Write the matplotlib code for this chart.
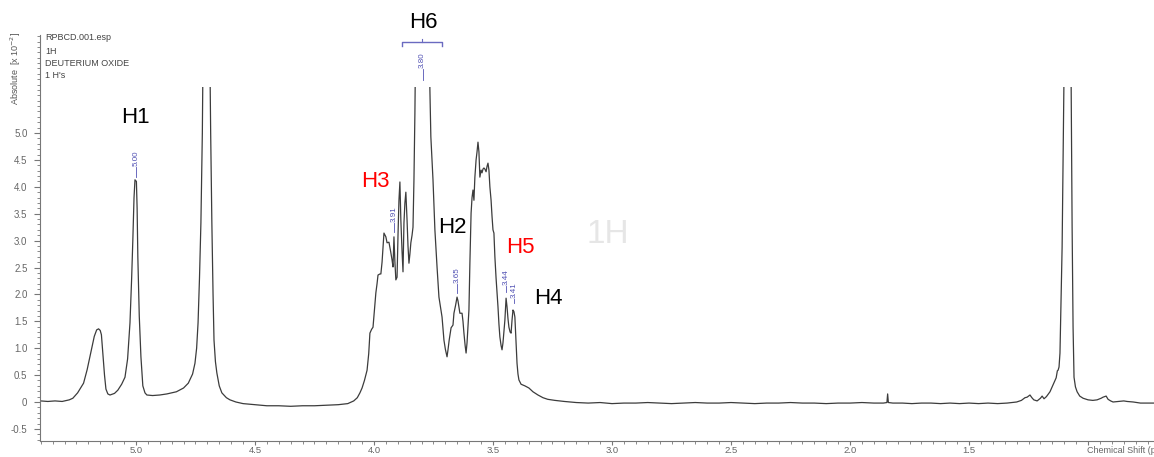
import matplotlib
matplotlib.use('Agg')
import matplotlib.pyplot as plt
from matplotlib.patches import Rectangle
from matplotlib.ticker import FixedLocator, MultipleLocator

# ---------------- data ----------------
ppm = [5.40, 5.37, 5.34, 5.31, 5.28, 5.265, 5.245, 5.22, 5.205, 5.19, 5.175, 5.165, 5.157, 5.150, 5.145,
       5.139, 5.132, 5.126, 5.118, 5.109, 5.090, 5.076, 5.060, 5.046, 5.035, 5.025, 5.018, 5.013, 5.008,
       5.004, 4.998, 4.995, 4.992, 4.986, 4.979, 4.971, 4.962, 4.954, 4.93, 4.90, 4.87, 4.83, 4.80, 4.78,
       4.762, 4.752, 4.745, 4.739, 4.733, 4.727, 4.721, 4.715, 4.704, 4.693, 4.686, 4.681, 4.676, 4.672,
       4.666, 4.660, 4.650, 4.639, 4.620, 4.605, 4.58, 4.55, 4.50, 4.45, 4.40, 4.35, 4.30, 4.25, 4.20,
       4.15, 4.11, 4.085, 4.07, 4.059, 4.050, 4.040, 4.029, 4.022, 4.017, 4.010, 4.004, 3.998, 3.992,
       3.987, 3.983, 3.975, 3.971, 3.966, 3.962, 3.958, 3.950, 3.945, 3.937, 3.930, 3.924, 3.920, 3.916,
       3.912, 3.908, 3.903, 3.899, 3.895, 3.891, 3.887, 3.882, 3.878, 3.874, 3.870, 3.866, 3.861, 3.857,
       3.853, 3.849, 3.845, 3.840, 3.836, 3.832, 3.828, 3.822, 3.81, 3.796, 3.782, 3.770, 3.765, 3.761,
       3.756, 3.752, 3.748, 3.744, 3.735, 3.727, 3.720, 3.714, 3.706, 3.700, 3.693, 3.689, 3.684, 3.676,
       3.668, 3.664, 3.657, 3.651, 3.647, 3.643, 3.639, 3.630, 3.626, 3.622, 3.617, 3.613, 3.609, 3.605,
       3.601, 3.597, 3.592, 3.588, 3.584, 3.580, 3.576, 3.571, 3.567, 3.563, 3.559, 3.555, 3.550, 3.546,
       3.542, 3.538, 3.534, 3.529, 3.525, 3.521, 3.517, 3.513, 3.508, 3.504, 3.500, 3.496, 3.492, 3.487,
       3.483, 3.479, 3.475, 3.471, 3.466, 3.462, 3.458, 3.454, 3.450, 3.445, 3.441, 3.437, 3.433, 3.428,
       3.424, 3.420, 3.416, 3.412, 3.408, 3.403, 3.399, 3.395, 3.391, 3.382, 3.366, 3.349, 3.332, 3.311,
       3.29, 3.27, 3.24, 3.20, 3.15, 3.10, 3.05, 3.00, 2.95, 2.90, 2.85, 2.80, 2.75, 2.70, 2.65, 2.60,
       2.55, 2.50, 2.45, 2.40, 2.35, 2.30, 2.25, 2.20, 2.15, 2.10, 2.05, 2.00, 1.95, 1.90, 1.86, 1.845,
       1.842, 1.839, 1.82, 1.78, 1.74, 1.70, 1.66, 1.62, 1.58, 1.54, 1.50, 1.46, 1.42, 1.38, 1.34, 1.30,
       1.28, 1.265, 1.256, 1.244, 1.236, 1.228, 1.214, 1.200, 1.193, 1.185, 1.175, 1.160, 1.147, 1.134,
       1.129, 1.126, 1.122, 1.118, 1.113, 1.109, 1.105, 1.100, 1.086, 1.072, 1.067, 1.063, 1.059, 1.053,
       1.046, 1.035, 1.021, 1.000, 0.980, 0.962, 0.945, 0.937, 0.924, 0.916, 0.905, 0.895, 0.87, 0.85,
       0.836, 0.81, 0.78, 0.75, 0.723]
intensity = [0.02, 0.01, 0.02, 0.01, 0.04, 0.07, 0.17, 0.35, 0.60, 0.91, 1.22, 1.34, 1.36, 1.33, 1.25,
             0.90, 0.50, 0.24, 0.15, 0.13, 0.16, 0.22, 0.33, 0.46, 0.80, 1.47, 2.30, 3.01, 3.80,
             4.13, 4.10, 3.60, 2.70, 1.60, 0.84, 0.30, 0.17, 0.13, 0.12, 0.13, 0.15, 0.19, 0.26, 0.35,
             0.52, 0.72, 1.00, 1.47, 2.30, 3.33, 5.00, 8.0, 40.0, 8.0, 5.0, 3.33, 2.00, 1.15,
             0.75, 0.54, 0.30, 0.17, 0.08, 0.04, 0.0, -0.03, -0.05, -0.07, -0.07, -0.08, -0.07, -0.07, -0.06,
             -0.05, -0.03, 0.02, 0.08, 0.17, 0.26, 0.40, 0.59, 0.90, 1.28, 1.35, 1.39, 1.70, 2.03,
             2.20, 2.36, 2.38, 2.38, 2.60, 2.88, 3.14, 3.07, 2.96, 2.97, 2.80, 2.64, 2.51, 3.07,
             2.60, 2.27, 2.32, 3.10, 3.75, 4.09, 3.38, 2.80, 2.42, 3.33, 3.70, 3.90, 3.38, 2.90,
             2.58, 2.75, 2.96, 3.10, 3.25, 4.13, 5.37, 8.0, 11.0, 12.0, 11.0, 7.5, 5.8, 4.93,
             4.50, 4.13, 3.65, 3.20, 2.51, 1.95, 1.75, 1.58, 1.15, 0.98, 0.84, 0.97, 1.15, 1.38,
             1.43, 1.65, 1.80, 1.95, 1.88, 1.77, 1.65, 1.65, 1.50, 1.28, 1.05, 0.91, 1.10, 1.40,
             1.71, 2.58, 3.51, 3.80, 3.94, 3.75, 4.18, 4.50, 4.65, 4.83, 4.65, 4.18, 4.31, 4.26,
             4.33, 4.35, 4.33, 4.28, 4.38, 4.44, 4.31, 4.00, 3.75, 3.45, 3.20, 3.14, 2.70, 2.30,
             2.03, 1.77, 1.45, 1.21, 1.05, 0.97, 1.10, 1.30, 1.52, 1.93, 1.77, 1.55, 1.39, 1.30,
             1.28, 1.52, 1.71, 1.68, 1.58, 1.10, 0.72, 0.52, 0.41, 0.33, 0.30, 0.26, 0.19, 0.13,
             0.08, 0.05, 0.03, 0.01, -0.01, -0.02, -0.01, -0.03, -0.02, -0.02, -0.01, -0.02, -0.03, -0.02, -0.01, -0.02,
             -0.02, -0.01, -0.02, -0.03, -0.02, -0.02, -0.01, -0.02, -0.02, -0.03, -0.02, -0.02, -0.01, -0.02, -0.02, -0.01,
             0.15, -0.01, -0.02, -0.02, -0.03, -0.02, -0.02, -0.03, -0.02, -0.03, -0.02, -0.03, -0.02, -0.03, -0.02, 0.0,
             0.03, 0.08, 0.09, 0.13, 0.08, 0.04, 0.02, 0.07, 0.11, 0.06, 0.10, 0.19, 0.32, 0.45,
             0.58, 0.59, 0.65, 0.91, 2.03, 2.88, 4.50, 6.5, 30.0, 6.5, 3.25, 1.39, 0.46, 0.28,
             0.19, 0.11, 0.07, 0.04, 0.03, 0.04, 0.07, 0.09, 0.11, 0.05, 0.02, 0.0, 0.01, 0.02,
             0.01, 0.0, -0.02, -0.02, -0.02]

x_ticks = [5.0, 4.5, 4.0, 3.5, 3.0, 2.5, 2.0, 1.5, 1.0]
x_tick_labels = ['5.0', '4.5', '4.0', '3.5', '3.0', '2.5', '2.0', '1.5', '']
y_ticks = [-0.5, 0.0, 0.5, 1.0, 1.5, 2.0, 2.5, 3.0, 3.5, 4.0, 4.5, 5.0]
y_tick_labels = ['-0.5', '0', '0.5', '1.0', '1.5', '2.0', '2.5', '3.0', '3.5', '4.0', '4.5', '5.0']

# proton assignments: label, ppm position, height, colour
h_labels = ['H1', 'H6', 'H3', 'H2', 'H5', 'H4']
h_x = [5.00, 3.794, 3.996, 3.672, 3.387, 3.269]
h_y = [5.28, 7.06, 4.09, 3.25, 2.88, 1.93]
h_colors = ['black', 'black', 'red', 'black', 'red', 'black']

# peak picking labels: text, ppm, line bottom, text bottom
pk_labels = ['5.00', '3.91', '3.80', '3.65', '3.44', '3.41']
pk_x = [5.00, 3.916, 3.796, 3.651, 3.445, 3.41]
pk_line_lo = [4.18, 3.16, 5.98, 2.03, 2.04, 1.84]
pk_text_lo = [4.38, 3.34, 6.21, 2.21, 2.17, 1.94]
h6_range = [3.882, 3.714]
h6_bracket_y = 6.69

clip_top = 5.855

# ---------------- figure ----------------
plt.rcParams['font.family'] = ['Liberation Sans', 'DejaVu Sans']
W, H = 1154, 457
fig = plt.figure(figsize=(W / 100, H / 100), dpi=100)
ax = fig.add_axes([40 / W, 16 / H, (W - 40) / W, 406 / H])

line, = ax.plot(ppm, intensity, color='#3c3c3c', lw=0.9)
line.set_clip_path(Rectangle((0, -2), 10, clip_top + 2, transform=ax.transData))

ax.set_xlim(5.403, 0.723)
ax.set_ylim(-0.725, 6.822)

for s in ['top', 'right']:
    ax.spines[s].set_visible(False)
for s in ['left', 'bottom']:
    ax.spines[s].set_color('#777777')
    ax.spines[s].set_linewidth(0.8)

ax.xaxis.set_major_locator(FixedLocator(x_ticks))
ax.set_xticklabels(x_tick_labels)
ax.xaxis.set_minor_locator(MultipleLocator(0.05))
ax.yaxis.set_major_locator(FixedLocator(y_ticks))
ax.set_yticklabels(y_tick_labels)
ax.yaxis.set_minor_locator(MultipleLocator(0.1))
ax.tick_params(axis='both', which='major', direction='out', width=0.8,
               color='#777777', labelcolor='#666666', labelsize=7)
ax.tick_params(axis='y', which='major', length=4.0, pad=5)
ax.tick_params(axis='x', which='major', length=2.6, pad=0.8, labelsize=6.8)
ax.tick_params(axis='both', which='minor', direction='out', length=2.0, width=0.6, color='#777777')

ax.annotate('Chemical Shift (ppm)', xy=(1.0, 0), xycoords=('data', 'axes fraction'),
            xytext=(-1, -3.4), textcoords='offset points', ha='left', va='top',
            fontsize=6.5, color='#666666', annotation_clip=False)

# header / axis label
fig.text(45 / W, 1 - 38 / H, 'RPBCD.001.esp', fontsize=6.5, color='#444444', va='center', ha='left')
fig.text(45 / W, 1 - 51 / H, '1H', fontsize=6.5, color='#444444', va='center', ha='left')
fig.text(45 / W, 1 - 63 / H, 'DEUTERIUM OXIDE', fontsize=6.5, color='#444444', va='center', ha='left')
fig.text(45 / W, 1 - 75 / H, "1 H's", fontsize=6.5, color='#444444', va='center', ha='left')
fig.text(16 / W, 1 - 32 / H, 'Absolute  [x 10$^{-2}$]', rotation=90, fontsize=6.5,
         color='#555555', va='top', ha='center')

# watermark
ax.text(3.017, 3.12, '1H', fontsize=24, color='#e6e6e6', ha='center', va='center', zorder=0)

# assignment labels
for lab, x, y, c in zip(h_labels, h_x, h_y, h_colors):
    ax.text(x, y, lab, fontsize=16, color=c, ha='center', va='center', clip_on=False)

# peak picking labels
pk_color = '#5252b4'
for lab, x, lo, tlo in zip(pk_labels, pk_x, pk_line_lo, pk_text_lo):
    ax.plot([x, x], [lo, tlo - 0.02], color=pk_color, lw=0.6, clip_on=False)
    ax.text(x, tlo, lab, rotation=90, fontsize=5.8, color=pk_color, ha='center', va='bottom',
            clip_on=False)

# H6 integral/multiplet bracket
ax.plot([h6_range[0], h6_range[0], h6_range[1], h6_range[1]],
        [h6_bracket_y - 0.08, h6_bracket_y, h6_bracket_y, h6_bracket_y - 0.08],
        color='#6a6ac0', lw=1.0, clip_on=False)
mid = (h6_range[0] + h6_range[1]) / 2
ax.plot([mid, mid], [h6_bracket_y, h6_bracket_y + 0.05], color='#6a6ac0', lw=0.8, clip_on=False)

fig.savefig('out.png', dpi=100)
